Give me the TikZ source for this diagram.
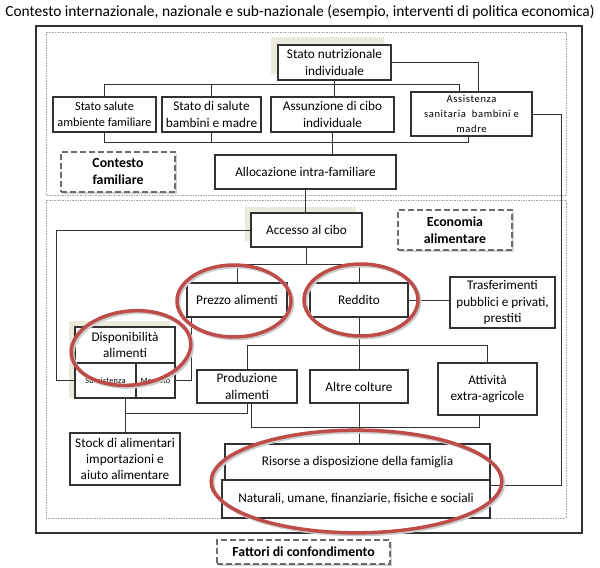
\documentclass[tikz,border=0pt]{standalone}
\usepackage{fontspec}
\setmainfont{Carlito}
\usetikzlibrary{shadows}
\definecolor{hlred}{RGB}{190,77,74}
\definecolor{beige}{RGB}{236,234,220}
\definecolor{linea}{RGB}{50,50,50}

\begin{document}
\begin{tikzpicture}[x=0.3mm, y=-0.3mm,
    every node/.style={font=\fontsize{11.3}{14}\selectfont, align=center, inner sep=0pt},
    box/.style={draw=linea, line width=0.9pt, fill=white},
    tag/.style={draw=gray!85!black, line width=1.2pt, dash pattern=on 1.8mm off 0.9mm, fill=white,
        font=\fontsize{11.8}{14.5}\selectfont\bfseries,
        drop shadow={shadow xshift=0.6mm, shadow yshift=-0.6mm, opacity=0.35}},
    hl/.style={draw=hlred, line width=3pt,
        preaction={draw=black!20, line width=3pt, transform canvas={xshift=0.5mm, yshift=-0.5mm}}},
    frame/.style={draw=gray!70, densely dotted, line width=0.4pt},
    conn/.style={draw=linea, line width=0.7pt}]
    \useasboundingbox (0,0) rectangle (600,567);

    \node[font=\fontsize{13.2}{16}\selectfont] (titolo) at (300,12) {Contesto internazionale, nazionale e sub-nazionale (esempio, interventi di politica economica)};

    % cornici
    \draw[linea, line width=1.3pt] (36,26) rectangle (582,533);
    \draw[frame] (46,32) rectangle (566,195);
    \draw[frame] (46,200) rectangle (566,518);

    % ombre chiare
    \fill[beige] (271,37) rectangle (384,74);
    \fill[beige] (245,207) rectangle (356,241);
    \fill[beige] (69,321) rectangle (170,398);

    % contesto familiare
    \node[box, minimum width=33.9mm, minimum height=10.5mm] (nutr) at (334.5,62.5) {Stato nutrizionale\\individuale};
    \node[box, minimum width=30.9mm, minimum height=10.5mm, font=\fontsize{10.5}{14}\selectfont] (salamb) at (104.5,114.5) {Stato salute\\ambiente familiare};
    \node[box, minimum width=29.7mm, minimum height=10.5mm] (salbm) at (211.5,114.5) {Stato di salute\\bambini e madre};
    \node[box, minimum width=36.9mm, minimum height=10.5mm] (cibo) at (332.5,114.5) {Assunzione di cibo\\individuale};
    \node[box, minimum width=36.3mm, minimum height=13.2mm, font=\fontsize{9}{13}\selectfont\addfontfeature{LetterSpace=6}] (assist) at (471.5,114) {Assistenza\\sanitaria\ \ bambini e\\madre};
    \node[tag, minimum width=34.2mm, minimum height=12mm] (ctxfam) at (118,172) {Contesto\\familiare};
    \node[box, minimum width=54.3mm, minimum height=10.2mm] (alloc) at (305.5,172) {Allocazione intra-familiare};

    % economia alimentare
    \node[box, minimum width=33.3mm, minimum height=10.2mm] (accesso) at (306.5,230) {Accesso al cibo};
    \node[tag, minimum width=34.2mm, minimum height=12mm] (econ) at (455,230) {Economia\\alimentare};
    \node[box, minimum width=30mm, minimum height=10.2mm] (prezzo) at (237,300) {Prezzo alimenti};
    \node[box, minimum width=29.4mm, minimum height=10.2mm] (reddito) at (359,300) {Reddito};
    \node[box, minimum width=31.5mm, minimum height=15.3mm] (trasf) at (502.5,302.5) {Trasferimenti\\pubblici e privati,\\prestiti};
    \node[box, minimum width=30mm, minimum height=10.8mm] (disp) at (125,345) {Disponibilità\\alimenti};
    \node[box, minimum width=18.3mm, minimum height=10.5mm, font=\fontsize{7}{8}\selectfont\addfontfeature{LetterSpace=3}] (suss) at (105.5,380.5) {Sussistenza};
    \node[box, minimum width=11.7mm, minimum height=10.5mm, font=\fontsize{7}{8}\selectfont\addfontfeature{LetterSpace=3}] (merc) at (155.5,380.5) {Mercato};
    \node[box, minimum width=30mm, minimum height=9.9mm] (prod) at (247,386.5) {Produzione\\alimenti};
    \node[box, minimum width=29.4mm, minimum height=9.9mm] (altre) at (359,386.5) {Altre colture};
    \node[box, minimum width=29.7mm, minimum height=15.6mm] (attiv) at (487.5,389) {Attività\\extra-agricole};
    \node[box, minimum width=33mm, minimum height=15.6mm] (stock) at (125,459) {Stock di alimentari\\importazioni e\\aiuto alimentare};
    \node[box, minimum width=79.5mm, minimum height=10.8mm] (risorse) at (357.5,462) {Risorse a disposizione della famiglia};
    \node[box, minimum width=80.4mm, minimum height=11.4mm] (natur) at (356,499) {Naturali, umane, finanziarie, fisiche e sociali};
    \node[tag, minimum width=51.9mm, minimum height=7.2mm] (fattori) at (303.5,552) {Fattori di confondimento};

    % collegamenti in alto
    \draw[conn] (nutr.south) -- (nutr.south |- cibo.north);
    \draw[conn] (salamb.north) -- ++(0,-12) -| ([xshift=-3.5mm]assist.north);
    \draw[conn] (salbm.north) -- ++(0,-12);
    \draw[conn] (nutr.east) -| ([xshift=2mm]assist.north);
    \draw[conn] (salamb.south) -- ++(0,10) -| ([xshift=-1mm]assist.south);
    \draw[conn] (salbm.south) -- ++(0,10);
    \draw[conn] (cibo.south) -- (cibo.south |- alloc.north);
    \draw[conn] (alloc.south) -- (alloc.south |- accesso.north);
    \draw[conn] (assist.east) -- ++(29,0) |- ([yshift=4.2mm]natur.east);

    % collegamenti in basso
    \draw[conn] (accesso.west) -- ++(-194,0) |- (suss.west);
    \draw[conn] ([xshift=-13.8mm]prezzo.south) |- (merc.east);
    \draw[conn] (accesso.south) -- ++(0,17) coordinate (nodo1);
    \draw[conn] (prezzo.north) |- (nodo1) -| (reddito.north);
    \draw[conn] (reddito.east) -- (trasf.west |- reddito.east);
    \draw[conn] (reddito.south) -- (altre.north);
    \draw[conn] (prod.north) -- ++(0,-24) -| (attiv.north);
    \draw[conn] (altre.south) -- (altre.south |- risorse.north);
    \draw[conn] ([xshift=1.2mm]prod.south) -- ++(0,24) -| ([xshift=-2.5mm]attiv.south);
    \draw[conn] (stock.north) -- (stock.north |- suss.south);
    \draw[conn] (prod.south) -- ++(0,10) -| (stock.north);

    % evidenziazioni
    \draw[hl] (234,301) ellipse [x radius=17.1mm, y radius=10.8mm];
    \draw[hl] (361,300) ellipse [x radius=17.1mm, y radius=10.8mm];
    \draw[hl, rotate around={6:(131,348)}] (131,348) ellipse [x radius=18mm, y radius=11.1mm];
    \draw[hl] (356.5,481.5) ellipse [x radius=43.6mm, y radius=15.4mm];
\end{tikzpicture}
\end{document}
